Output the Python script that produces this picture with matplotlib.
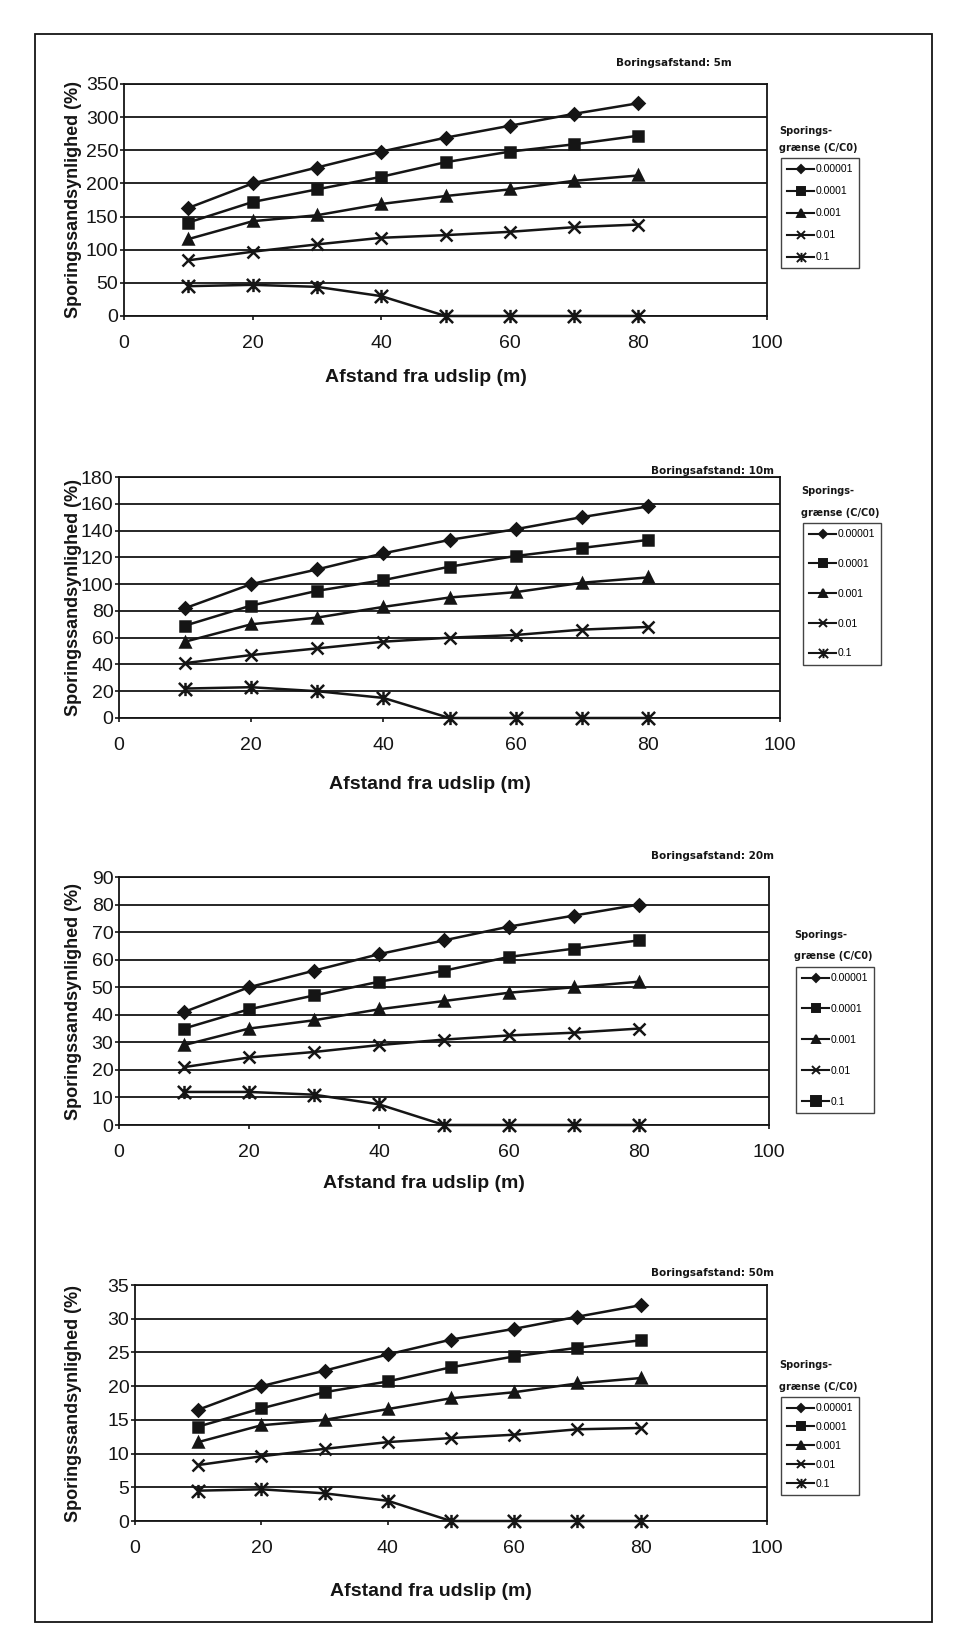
import matplotlib
matplotlib.use('Agg')
import matplotlib.pyplot as plt
from matplotlib.path import Path
from matplotlib.lines import Line2D
from matplotlib.patches import Rectangle

plt.rcParams['font.family'] = ['Liberation Sans Narrow', 'Liberation Sans', 'DejaVu Sans']

# distance from release (m)
afstand = [10, 20, 30, 40, 50, 60, 70, 80]
graenser = ['0.00001', '0.0001', '0.001', '0.01', '0.1']

# Boringsafstand 5 m
b5_00001 = [163, 200, 224, 248, 269, 287, 305, 321]
b5_0001 = [141, 172, 191, 210, 232, 248, 259, 272]
b5_001 = [116, 143, 152, 169, 181, 191, 204, 212]
b5_01 = [84, 97, 108, 118, 122, 127, 134, 138]
b5_1 = [45, 47, 44, 30, 0, 0, 0, 0]

# Boringsafstand 10 m
b10_00001 = [82, 100, 111, 123, 133, 141, 150, 158]
b10_0001 = [69, 84, 95, 103, 113, 121, 127, 133]
b10_001 = [57, 70, 75, 83, 90, 94, 101, 105]
b10_01 = [41, 47, 52, 57, 60, 62, 66, 68]
b10_1 = [22, 23, 20, 15, 0, 0, 0, 0]

# Boringsafstand 20 m
b20_00001 = [41, 50, 56, 62, 67, 72, 76, 80]
b20_0001 = [35, 42, 47, 52, 56, 61, 64, 67]
b20_001 = [29, 35, 38, 42, 45, 48, 50, 52]
b20_01 = [21, 24.5, 26.5, 29, 31, 32.5, 33.5, 35]
b20_1 = [12, 12, 11, 7.5, 0, 0, 0, 0]

# Boringsafstand 50 m
b50_00001 = [16.5, 20, 22.3, 24.7, 26.9, 28.5, 30.3, 32]
b50_0001 = [14, 16.7, 19.1, 20.7, 22.8, 24.4, 25.7, 26.8]
b50_001 = [11.7, 14.2, 15, 16.6, 18.2, 19.1, 20.4, 21.2]
b50_01 = [8.3, 9.6, 10.7, 11.7, 12.3, 12.8, 13.6, 13.8]
b50_1 = [4.5, 4.7, 4.1, 3.0, 0, 0, 0, 0]

W, H = 973, 1652
fig = plt.figure(figsize=(W / 100, H / 100), dpi=100)
fig.patch.set_facecolor('white')

# excel "star" marker: x with a vertical bar
star = Path([(-1, -1), (1, 1), (-1, 1), (1, -1), (0, -1), (0, 1)],
            [Path.MOVETO, Path.LINETO, Path.MOVETO, Path.LINETO, Path.MOVETO, Path.LINETO])
markers = ['D', 's', '^', 'x', star]
msizes = [6.5, 7.5, 7.5, 9, 9.5]
ink = '#151515'


def fx(px):
    return px / W


def fy(py):
    return 1 - py / H


# outer frame
fig.patches.append(Rectangle((fx(35), fy(1622)), fx(932) - fx(35), fy(34) - fy(1622),
                             transform=fig.transFigure, fill=False, lw=1.3, ec=ink))

panels = [
    dict(series=[b5_00001, b5_0001, b5_001, b5_01, b5_1], ymax=350, ystep=50,
         box=(124, 767, 84, 316), title='Boringsafstand: 5m', tpos=(732, 68),
         leg=(781, 158, 1.15), ltitle=(131, 148), xl=377, qmark=False),
    dict(series=[b10_00001, b10_0001, b10_001, b10_01, b10_1], ymax=180, ystep=20,
         box=(119, 780, 477, 718), title='Boringsafstand: 10m', tpos=(774, 476),
         leg=(803, 523, 1.9), ltitle=(491, 513), xl=784, qmark=False),
    dict(series=[b20_00001, b20_0001, b20_001, b20_01, b20_1], ymax=90, ystep=10,
         box=(119, 769, 877, 1125), title='Boringsafstand: 20m', tpos=(774, 861),
         leg=(796, 967, 2.0), ltitle=(935, 956), xl=1184, qmark=True),
    dict(series=[b50_00001, b50_0001, b50_001, b50_01, b50_1], ymax=35, ystep=5,
         box=(135, 767, 1285, 1521), title='Boringsafstand: 50m', tpos=(774, 1278),
         leg=(781, 1397, 0.85), ltitle=(1365, 1387), xl=1592, qmark=False),
]

for p in panels:
    l, r, t, b = p['box']
    ax = fig.add_axes([fx(l), fy(b), fx(r) - fx(l), fy(t) - fy(b)])
    ax.set_xlim(0, 100)
    ax.set_ylim(0, p['ymax'])
    ax.set_xticks(range(0, 101, 20))
    ax.set_yticks(range(0, p['ymax'] + 1, p['ystep']))
    ax.grid(axis='y', color=ink, lw=1.3)
    ax.set_axisbelow(True)
    for s in ax.spines.values():
        s.set_color(ink)
        s.set_linewidth(1.3)
    ax.tick_params(length=3, width=1.2, direction='out', labelsize=14, colors=ink)
    ax.tick_params(axis='x', pad=11)
    ax.tick_params(axis='y', pad=1)

    handles = []
    for vals, m, ms, lab in zip(p['series'], markers, msizes, graenser):
        filled = m in ('D', 's', '^')
        ax.plot(afstand, vals, color=ink, lw=1.8, marker=m, ms=ms,
                mfc=ink if filled else 'none', mec=ink, mew=1.8, clip_on=False)
        lm = m
        if p['qmark'] and lab == '0.1':
            lm = 's'
        lf = lm in ('D', 's', '^')
        handles.append(Line2D([], [], color=ink, lw=1.5, marker=lm, ms=ms * 0.7,
                              mfc=ink if lf else 'none', mec=ink, mew=1.4, label=lab))

    lx, ly, sp = p['leg']
    leg = ax.legend(handles=handles, loc='upper left', bbox_to_anchor=(fx(lx), fy(ly)),
                    bbox_transform=fig.transFigure, fontsize=7.5, frameon=True,
                    fancybox=False, edgecolor=ink, labelspacing=sp, handlelength=2.6,
                    handletextpad=0.1, borderpad=0.6, borderaxespad=0)
    leg.get_frame().set_linewidth(1.0)

    fig.text(fx(lx - 2), fy(p['ltitle'][0]), 'Sporings-', fontsize=7, fontweight='bold',
             family='DejaVu Sans', va='center', ha='left', color=ink)
    fig.text(fx(lx - 2), fy(p['ltitle'][1]), 'grænse (C/C0)', fontsize=7, fontweight='bold',
             family='DejaVu Sans', va='center', ha='left', color=ink)

    fig.text(fx(p['tpos'][0]), fy(p['tpos'][1]), p['title'], fontsize=7.5, fontweight='bold',
             family='DejaVu Sans', ha='right', va='bottom', color=ink)

    fig.text(fx((l + r) / 2 - 20), fy(p['xl']), 'Afstand fra udslip (m)',
             fontsize=14, fontweight='bold', family=['Liberation Sans', 'DejaVu Sans'],
             ha='center', va='center', color=ink)
    fig.text(fx(74), fy((t + b) / 2), 'Sporingssandsynlighed (%)', rotation=90,
             fontsize=13, fontweight='bold', family=['Liberation Sans', 'DejaVu Sans'],
             ha='center', va='center', color=ink)

fig.savefig('out.png', dpi=100, facecolor='white')
